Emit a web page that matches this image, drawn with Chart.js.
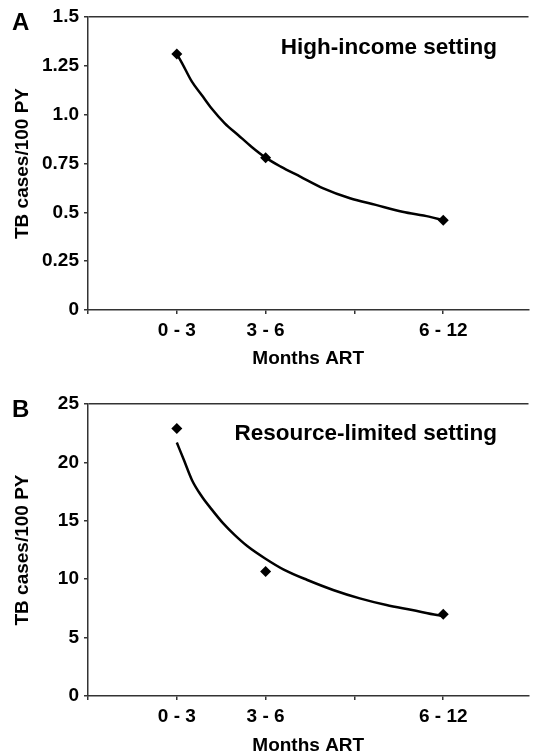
<!DOCTYPE html>
<html>
<head>
<meta charset="utf-8">
<script src="https://cdn.jsdelivr.net/npm/chart.js@4/dist/chart.umd.min.js"></script>
<style>
  html, body { margin: 0; padding: 0; background: #fff; overflow: hidden; }
  canvas { display: block; }
</style>
</head>
<body>
<canvas id="chartA" width="534" height="377"></canvas>
<canvas id="chartB" width="534" height="378"></canvas>
<script>
// x positions of the interval categories on the axis
const xTickValues = [0, 1, 2, 3, 4];
const categoryPos = [1, 2, 4];
const categories = ["0 - 3", "3 - 6", "6 - 12"];

// panel A: high-income setting
const highIncomeRates = [1.31, 0.78, 0.46];
const highIncomeFitX = [1.0, 1.06, 1.17, 1.28, 1.39, 1.54, 1.69, 1.84, 2.0, 2.17, 2.39, 2.65, 2.95, 3.24, 3.54, 3.84, 4.0];
const highIncomeFitY = [1.31, 1.263, 1.169, 1.101, 1.033, 0.956, 0.896, 0.836, 0.78, 0.734, 0.683, 0.623, 0.572, 0.538, 0.503, 0.478, 0.46];
const yTicksA = ["0", "0.25", "0.5", "0.75", "1.0", "1.25", "1.5"];

// panel B: resource-limited setting
const resourceRates = [22.9, 10.65, 7.0];
const resourceFitX = [1.0, 1.08, 1.17, 1.28, 1.39, 1.52, 1.65, 1.8, 1.99, 2.21, 2.47, 2.76, 3.06, 3.36, 3.65, 3.93, 4.0];
const resourceFitY = [21.7, 20.2, 18.5, 17.1, 16.0, 14.8, 13.8, 12.8, 11.8, 10.8, 9.93, 9.08, 8.36, 7.79, 7.36, 6.93, 6.85];
const yTicksB = ["0", "5", "10", "15", "20", "25"];

const FONT = '"Liberation Sans", Arial, sans-serif';
const AXIS = "#333";
Chart.defaults.font.family = FONT;
Chart.defaults.color = "#000";

function panelText(letter, letterY, title, titleY) {
  return {
    id: "panelText",
    afterDraw(chart) {
      const ctx = chart.ctx;
      ctx.save();
      ctx.fillStyle = "#000";
      ctx.textBaseline = "alphabetic";
      ctx.font = "bold 24px " + FONT;
      ctx.textAlign = "left";
      ctx.fillText(letter, 12, letterY);
      ctx.font = "bold 22.5px " + FONT;
      ctx.textAlign = "right";
      ctx.fillText(title, 497, titleY);
      ctx.restore();
    },
  };
}

function makeChart(id, rates, fitX, fitY, yMax, yStep, yLabels, padTop, xHeight, titlePad, textPlugin) {
  const ctx = document.getElementById(id).getContext("2d");
  return new Chart(ctx, {
    type: "line",
    data: {
      datasets: [
        {
          data: categoryPos.map((x, i) => ({ x: x, y: rates[i] })),
          showLine: false,
          pointStyle: "rectRot",
          pointRadius: 5.5,
          pointBackgroundColor: "#000",
          pointBorderWidth: 0,
        },
        {
          data: fitX.map((x, i) => ({ x: x, y: fitY[i] })),
          borderColor: "#000",
          borderWidth: 2.5,
          pointRadius: 0,
          cubicInterpolationMode: "monotone",
        },
      ],
    },
    options: {
      responsive: false,
      animation: false,
      layout: { padding: { top: padTop, left: 0, right: 0, bottom: 0 } },
      plugins: { legend: { display: false }, tooltip: { enabled: false } },
      scales: {
        x: {
          type: "linear",
          min: 0,
          max: 4.96,
          afterBuildTicks: (scale) => {
            scale.ticks = xTickValues.map((v) => ({ value: v }));
          },
          afterFit: (scale) => { scale.height = xHeight; },
          border: { color: AXIS, width: 1.5 },
          grid: { drawOnChartArea: false, tickColor: AXIS, tickLength: 4, lineWidth: 1.5 },
          ticks: {
            autoSkip: false,
            maxRotation: 0,
            padding: 5,
            font: { size: 19, weight: "bold" },
            callback: (v) => {
              const i = categoryPos.indexOf(v);
              return i >= 0 ? categories[i] : "";
            },
          },
          title: {
            display: true,
            text: "Months ART",
            font: { size: 19, weight: "bold", lineHeight: 1 },
            padding: { top: 0, bottom: titlePad },
          },
        },
        y: {
          min: 0,
          max: yMax,
          afterFit: (scale) => { scale.width = 88; },
          border: { color: AXIS, width: 1.5 },
          grid: {
            color: (c) => (c.tick && c.tick.value === yMax ? AXIS : "rgba(0,0,0,0)"),
            tickColor: AXIS,
            tickLength: 4,
            lineWidth: 1.5,
          },
          ticks: {
            stepSize: yStep,
            padding: 5,
            font: { size: 19, weight: "bold" },
            callback: (v, i) => yLabels[i],
          },
          title: {
            display: true,
            text: "TB cases/100 PY",
            font: { size: 19, weight: "bold", lineHeight: 1 },
            padding: { top: 13, bottom: 0 },
          },
        },
      },
    },
    plugins: [textPlugin],
  });
}

makeChart("chartA", highIncomeRates, highIncomeFitX, highIncomeFitY, 1.5, 0.25, yTicksA,
  17, 67, 8.5, panelText("A", 30, "High-income setting", 54));
makeChart("chartB", resourceRates, resourceFitX, resourceFitY, 25, 5, yTicksB,
  27, 59, 0, panelText("B", 40, "Resource-limited setting", 62.5));
</script>
</body>
</html>
